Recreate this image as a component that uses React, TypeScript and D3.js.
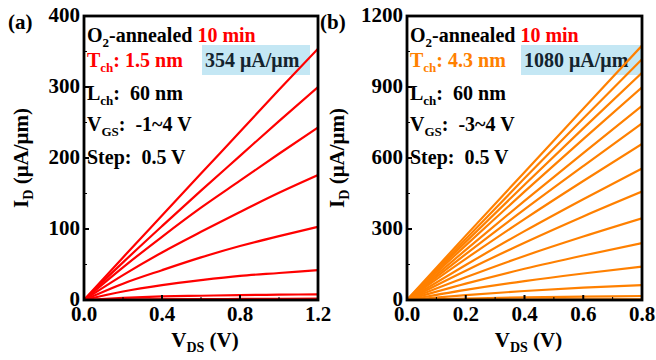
import React from "react";
import * as d3 from "d3";

// Panel (a): Tch 1.5 nm, VGS -1..4 V step 0.5 (top curve = 4 V)
const VDS_A = [0, 0.2, 0.4, 0.6, 0.8, 1.0, 1.2];
const VGS_A = [4, 3.5, 3, 2.5, 2, 1.5, 1, 0.5, 0, -0.5, -1];
const ID_A = [
  [0, 60, 119, 178, 237, 296, 354],
  [0, 53, 104, 154, 203, 252, 300],
  [0, 46, 89, 130, 168, 206, 243],
  [0, 35, 67, 96, 124, 151, 176],
  [0, 23, 42, 60, 76, 90, 103],
  [0, 12, 21, 28, 34, 38, 42],
  [0, 3, 5, 6, 7, 7.5, 8],
  [0, 0.6, 1, 1.3, 1.5, 1.7, 1.8],
  [0, 0.1, 0.2, 0.25, 0.3, 0.3, 0.3],
  [0, 0, 0.05, 0.05, 0.05, 0.05, 0.05],
  [0, 0, 0, 0, 0, 0, 0],
];
const YTICKS_A = [0, 100, 200, 300, 400];
const XTICKS_A = [0, 0.4, 0.8, 1.2];

// Panel (b): Tch 4.3 nm, VGS -3..4 V step 0.5
const VDS_B = [0, 0.2, 0.4, 0.6, 0.8];
const VGS_B = [4, 3.5, 3, 2.5, 2, 1.5, 1, 0.5, 0, -0.5, -1, -1.5, -2, -2.5, -3];
const ID_B = [
  [0, 272, 540, 808, 1075],
  [0, 258, 514, 767, 1017],
  [0, 245, 487, 725, 960],
  [0, 231, 458, 680, 899],
  [0, 212, 419, 621, 820],
  [0, 194, 383, 566, 746],
  [0, 174, 342, 503, 659],
  [0, 148, 291, 426, 556],
  [0, 124, 242, 353, 458],
  [0, 96, 186, 268, 345],
  [0, 69, 132, 188, 240],
  [0, 43, 80, 112, 141],
  [0, 21, 38, 52, 63],
  [0, 6, 11, 14, 17],
  [0, 1, 2, 2.5, 3],
];
const YTICKS_B = [0, 300, 600, 900, 1200];
const XTICKS_B = [0, 0.2, 0.4, 0.6, 0.8];

const RED = "#ff0000";
const ORANGE = "#ff8000";
const NB = "\u00A0";

type PanelProps = {
  label: string;
  labelX: number;
  left: number;
  right: number;
  xMax: number;
  yMax: number;
  xTicks: number[];
  yTicks: number[];
  xFmt: (v: number) => string;
  vds: number[];
  ids: number[][];
  color: string;
  tch: string;
  vgs: string;
  ion: string;
  boxX0: number;
  boxX1: number;
  yTitleX: number;
};

const TOP = 16;
const BOTTOM = 300;

function Panel(p: PanelProps) {
  const x = d3.scaleLinear().domain([0, p.xMax]).range([p.left, p.right]);
  const y = d3.scaleLinear().domain([0, p.yMax]).range([BOTTOM, TOP]);
  const line = d3
    .line<number>()
    .x((_, i) => x(p.vds[i]))
    .y((d) => y(d))
    .curve(d3.curveMonotoneX);
  const clipId = "clip" + p.label.replace(/\W/g, "");
  const xMinor: number[] = [];
  for (let i = 0; i < p.xTicks.length - 1; i++) xMinor.push((p.xTicks[i] + p.xTicks[i + 1]) / 2);
  const yMinor: number[] = [];
  for (let i = 0; i < p.yTicks.length - 1; i++) yMinor.push((p.yTicks[i] + p.yTicks[i + 1]) / 2);
  const tx = p.left + 3;
  const cx = (p.left + p.right) / 2;
  return (
    <g>
      <defs>
        <clipPath id={clipId}>
          <rect x={p.left} y={TOP} width={p.right - p.left} height={BOTTOM - TOP} />
        </clipPath>
      </defs>
      <text x={p.labelX} y={29} fontSize={21}>{p.label}</text>
      {/* info box */}
      <rect x={p.boxX0} y={45} width={p.boxX1 - p.boxX0} height={30} fill="#c4e7f4" />
      <text x={p.boxX0 + 3} y={67} fontSize={20} fill="#13232e">{p.ion}</text>
      {/* curves */}
      <g clipPath={`url(#${clipId})`}>
        {p.ids.map((s, i) => (
          <path key={i} d={line(s) || ""} fill="none" stroke={p.color} strokeWidth={2.2} />
        ))}
      </g>
      {/* frame */}
      <rect x={p.left} y={TOP} width={p.right - p.left} height={BOTTOM - TOP} fill="none" stroke="#000" strokeWidth={2.8} />
      {/* ticks */}
      {p.xTicks.map((t) => (
        <g key={"xt" + t}>
          <line x1={x(t)} x2={x(t)} y1={BOTTOM} y2={BOTTOM - 5} stroke="#000" strokeWidth={2} />
          <text x={x(t)} y={321} fontSize={21} textAnchor="middle">{p.xFmt(t)}</text>
        </g>
      ))}
      {xMinor.map((t) => (
        <line key={"xm" + t} x1={x(t)} x2={x(t)} y1={BOTTOM} y2={BOTTOM - 3} stroke="#000" strokeWidth={1} />
      ))}
      {p.yTicks.map((t) => (
        <g key={"yt" + t}>
          <line x1={p.left} x2={p.left + 5} y1={y(t)} y2={y(t)} stroke="#000" strokeWidth={2} />
          <text x={p.left - 4} y={y(t) + 6} fontSize={21} textAnchor="end">{t}</text>
        </g>
      ))}
      {yMinor.map((t) => (
        <line key={"ym" + t} x1={p.left} x2={p.left + 3} y1={y(t)} y2={y(t)} stroke="#000" strokeWidth={1} />
      ))}
      {/* axis titles */}
      <text x={cx + 4} y={347} fontSize={21} textAnchor="middle">
        V<tspan fontSize={14} dy={5}>DS</tspan>
        <tspan dy={-5}>{NB + "(V)"}</tspan>
      </text>
      <text transform={`translate(${p.yTitleX},158) rotate(-90)`} fontSize={21} textAnchor="middle">
        I<tspan fontSize={14} dy={5}>D</tspan>
        <tspan dy={-5}>{NB + "(μA/μm)"}</tspan>
      </text>
      {/* annotations */}
      <g fontSize={20}>
        <text x={tx} y={42}>
          O<tspan fontSize={13} dy={5}>2</tspan>
          <tspan dy={-5}>-annealed</tspan>
          <tspan fill={RED}>{NB + "10 min"}</tspan>
        </text>
        <text x={tx} y={67} fill={p.color}>
          T<tspan fontSize={13} dy={5}>ch</tspan>
          <tspan dy={-5}>{":" + NB + p.tch}</tspan>
        </text>
        <text x={tx} y={100}>
          L<tspan fontSize={13} dy={5}>ch</tspan>
          <tspan dy={-5}>{":" + NB + NB + "60 nm"}</tspan>
        </text>
        <text x={tx} y={131}>
          V<tspan fontSize={13} dy={5}>GS</tspan>
          <tspan dy={-5}>{":" + NB + NB + p.vgs}</tspan>
        </text>
        <text x={tx} y={164}>{"Step:" + NB + NB + "0.5 V"}</text>
      </g>
    </g>
  );
}

export default function App() {
  return (
    <svg
      width={656}
      height={360}
      viewBox="0 0 656 360"
      style={{ position: "absolute", left: 0, top: 0, background: "#fff" }}
    >
      <style>{`text { font-family: "Liberation Serif", "Times New Roman", Times, serif; font-weight: 700; }`}</style>
      <rect width={656} height={360} fill="#fff" />
      <Panel
        label="(a)"
        labelX={8}
        left={84}
        right={318}
        xMax={1.2}
        yMax={400}
        xTicks={XTICKS_A}
        yTicks={YTICKS_A}
        xFmt={(v) => v.toFixed(1)}
        vds={VDS_A}
        ids={ID_A}
        color={RED}
        tch="1.5 nm"
        vgs="-1~4 V"
        ion="354 μA/μm"
        boxX0={202}
        boxX1={310}
        yTitleX={28}
      />
      <Panel
        label="(b)"
        labelX={320}
        left={407}
        right={642}
        xMax={0.8}
        yMax={1200}
        xTicks={XTICKS_B}
        yTicks={YTICKS_B}
        xFmt={(v) => v.toFixed(1)}
        vds={VDS_B}
        ids={ID_B}
        color={ORANGE}
        tch="4.3 nm"
        vgs="-3~4 V"
        ion="1080 μA/μm"
        boxX0={521}
        boxX1={641}
        yTitleX={344}
      />
    </svg>
  );
}
